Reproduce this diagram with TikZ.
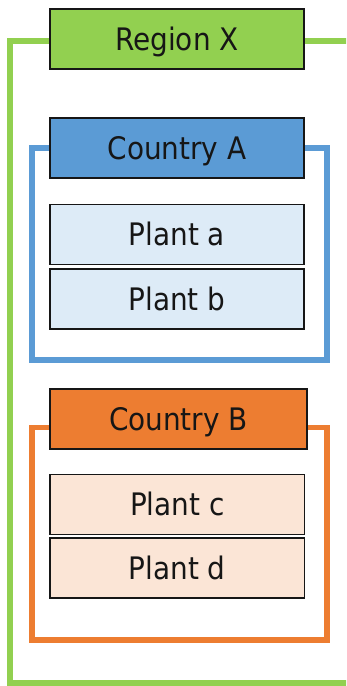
\documentclass[tikz,border=0pt]{standalone}
\usepackage{fontspec}
\setmainfont{DejaVu Sans Condensed}
\definecolor{regiongreen}{HTML}{92D050}
\definecolor{countryblue}{HTML}{5B9BD5}
\definecolor{countryorange}{HTML}{ED7D31}
\definecolor{plantblue}{HTML}{DDEBF7}
\definecolor{plantorange}{HTML}{FBE5D6}
\definecolor{inkdark}{HTML}{161616}
\tikzset{
  labelbox/.style={draw=inkdark, line width=1.6pt, rectangle, inner sep=0pt,
    minimum width=254pt, minimum height=60pt, text=inkdark,
    text height=22.6pt, text depth=0pt,
    font=\fontsize{31}{31}\selectfont},
  frameline/.style={line width=5.7pt},
}
\begin{document}
\begin{tikzpicture}[x=1pt,y=-1pt]
\useasboundingbox (0,0) rectangle (346,686);
% region frame, open to the right edge
\begin{scope}
  \clip (0,0) rectangle (346,686);
  \draw[frameline, draw=regiongreen] (360,41) -- (10,41) -- (10,683) -- (360,683);
\end{scope}
% country frames
\draw[frameline, draw=countryblue] (32.2,148) rectangle (327,360);
\draw[frameline, draw=countryorange] (32.2,427.5) rectangle (327,640);
% headers
\node[labelbox, fill=regiongreen] (region) at (177,39.2) {Region X};
\node[labelbox, fill=countryblue] (countryA) at (177,148) {Country A};
\node[labelbox, fill=countryorange, minimum width=257pt] (countryB) at (178.5,418.7) {Country B};
% plants
\node[labelbox, fill=plantblue] (plantA) at (177,234.3) {Plant a};
\node[labelbox, fill=plantblue] (plantB) at (177,298.7) {Plant b};
\node[labelbox, fill=plantorange, minimum width=254.7pt] (plantC) at (177.3,504.5) {Plant c};
\node[labelbox, fill=plantorange, minimum width=254.7pt] (plantD) at (177.3,568) {Plant d};
\end{tikzpicture}
\end{document}
